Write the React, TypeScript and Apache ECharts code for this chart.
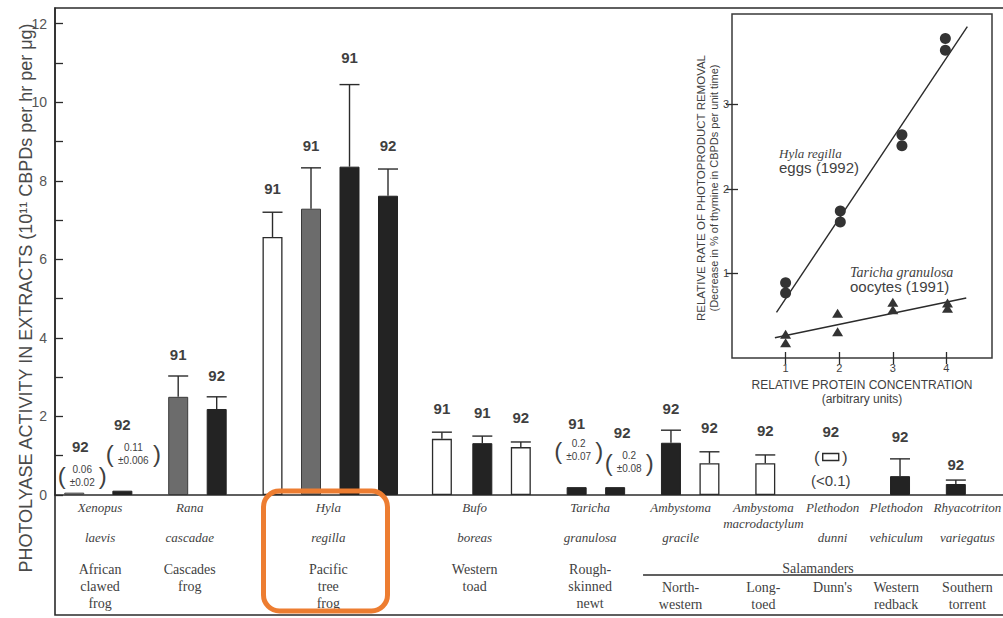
import React, { useEffect, useRef } from 'react';
import * as echarts from 'echarts';

// ---------- main bar chart data ----------
const barKeys = ['xen1', 'xen2', 'rana1', 'rana2', 'hyla1', 'hyla2', 'hyla3', 'hyla4', 'bufo1', 'bufo2', 'bufo3', 'tar1', 'tar2', 'amg1', 'amg2', 'amm1', 'pld', 'plv1', 'rhy1'];
const barSlot = [1.0, 3.5, 6.4, 8.4, 11.3, 13.3, 15.3, 17.3, 20.1, 22.2, 24.2, 27.1, 29.1, 32.0, 34.0, 36.9, 40.3, 43.9, 46.8];
const barValue = [0.06, 0.11, 2.5, 2.19, 6.57, 7.29, 8.36, 7.62, 1.43, 1.32, 1.22, 0.2, 0.2, 1.33, 0.81, 0.81, 0, 0.48, 0.28];
const barError: (number | null)[] = [null, null, 3.03, 2.5, 7.2, 8.33, 10.45, 8.3, 1.6, 1.5, 1.35, null, null, 1.65, 1.1, 1.02, null, 0.92, 0.38];
const barYear = ['92', '92', '91', '92', '91', '91', '91', '92', '91', '91', '92', '91', '92', '92', '92', '92', '92', '92', '92'];
const barFill = ['light', 'black', 'gray', 'black', 'white', 'gray', 'black', 'black', 'white', 'black', 'white', 'black', 'black', 'black', 'white', 'white', 'none', 'black', 'black'];
const barNote: (string[] | null)[] = [['0.06', '±0.02'], ['0.11', '±0.006'], null, null, null, null, null, null, null, null, null, ['0.2', '±0.07'], ['0.2', '±0.08'], null, null, null, null, null, null];

// ---------- category labels ----------
const groupSlot = [2.34, 7.0, 14.2, 21.8, 27.8, 32.5, 36.8, 40.4, 43.7, 47.4];
const groupGenus = ['Xenopus', 'Rana', 'Hyla', 'Bufo', 'Taricha', 'Ambystoma', 'Ambystoma', 'Plethodon', 'Plethodon', 'Rhyacotriton'];
const groupSpecies = ['laevis', 'cascadae', 'regilla', 'boreas', 'granulosa', 'gracile', 'macrodactylum', 'dunni', 'vehiculum', 'variegatus'];
const groupCommon = ['African\nclawed\nfrog', 'Cascades\nfrog', 'Pacific\ntree\nfrog', 'Western\ntoad', 'Rough-\nskinned\nnewt', 'North-\nwestern', 'Long-\ntoed', "Dunn's", 'Western\nredback', 'Southern\ntorrent'];
const groupIsSalamander = [false, false, false, false, false, true, true, true, true, true];
const salamanderSpan = [30.55, 49.6, 39.64];

// ---------- axes ----------
const yMax = 12.4;
const yTicks = [0, 1, 2, 3, 4, 5, 6, 7, 8, 9, 10, 11, 12];
const yTickLabels = [0, 2, 4, 6, 8, 10, 12];
const insetXTicks = [1, 2, 3, 4];
const insetYTicks = [1, 2, 3];

// ---------- inset data ----------
const eggsPoints = [[1, 0.89], [1, 0.77], [2.02, 1.74], [2.02, 1.61], [3.17, 2.64], [3.17, 2.51], [3.98, 3.78], [3.98, 3.64]];
const oocytePoints = [[1, 0.28], [1, 0.18], [1.97, 0.53], [1.97, 0.31], [3.0, 0.66], [3.0, 0.57], [4.02, 0.65], [4.02, 0.59]];
const eggsFit = [[0.83, 0.54], [4.39, 3.92]];
const oocyteFit = [[0.8, 0.24], [4.37, 0.71]];

// ---------- layout / style (pixel offsets) ----------
const INK = '#2b2b2b';
const TEXT = '#3f3f3f';
const SANS = '"Liberation Sans", Arial, Helvetica, sans-serif';
const SERIF = '"Liberation Serif", "Times New Roman", serif';
const LABEL_LIFT: Record<string, number> = { xen1: 46, xen2: 66, tar1: 64, tar2: 55, rhy1: 16, hyla3: 27, rana1: 21, rana2: 21, hyla2: 22, amg1: 22, plv1: 22, pld: 64 };
const LABEL_SHIFT: Record<string, number> = { xen1: 6, tar2: 7 };
const NOTE_LIFT: Record<string, number> = { xen1: 17, xen2: 37, tar1: 37, tar2: 25 };
const NOTE_SHIFT: Record<string, number> = { xen1: 8, xen2: 11, tar1: 2, tar2: 14 };
const FILL: Record<string, any> = {
  white: { color: '#ffffff', borderColor: INK, borderWidth: 1.3 },
  gray: { color: '#6c6c6c', borderColor: '#3a3a3a', borderWidth: 1 },
  light: { color: '#a5a5a5', borderColor: '#444', borderWidth: 1 },
  black: { color: '#232323', borderColor: '#232323', borderWidth: 1 },
};

function txt(text: string, x: number, y: number, font: string, align = 'center', vAlign = 'middle', extra: any = {}) {
  return {
    type: 'text',
    x,
    y,
    style: { text, font, fill: TEXT, align, textAlign: align, verticalAlign: vAlign, textVerticalAlign: vAlign, ...extra },
  };
}

export default function App() {
  const ref = useRef<HTMLDivElement>(null);
  useEffect(() => {
    const chart = echarts.init(ref.current!, null, { renderer: 'svg' });

    const barData = barKeys
      .map((k, i) => ({ k, i }))
      .filter((d) => barFill[d.i] !== 'none')
      .map(({ i }) => ({ value: [barSlot[i], barValue[i]], itemStyle: FILL[barFill[i]] }));

    const insetTick = { show: true, inside: true, length: 6, lineStyle: { color: INK, width: 1.3 } };

    const option: any = {
      animation: false,
      backgroundColor: '#ffffff',
      grid: [
        { left: 55, top: 8, right: 0, bottom: 123, show: false, containLabel: false, outerBoundsMode: 'none' },
        { left: 732, top: 14, width: 260, height: 344, show: true, borderColor: '#3a3a3a', borderWidth: 1.5, backgroundColor: 'transparent', containLabel: false, outerBoundsMode: 'none' },
      ],
      xAxis: [
        {
          gridIndex: 0, type: 'value', min: 0, max: 49.25,
          axisLine: { show: true, onZero: false, lineStyle: { color: INK, width: 1.6 } },
          axisTick: { show: false }, axisLabel: { show: false }, splitLine: { show: false },
        },
        {
          gridIndex: 1, type: 'value', min: 0, max: 4.85, position: 'bottom',
          axisLine: { show: false },
          axisTick: { ...insetTick, customValues: insetXTicks },
          axisLabel: { show: true, margin: 4, color: TEXT, fontSize: 11, fontFamily: SANS, customValues: insetXTicks },
          splitLine: { show: false },
          name: 'RELATIVE PROTEIN CONCENTRATION\n(arbitrary units)', nameLocation: 'middle', nameGap: 16,
          nameTextStyle: { color: TEXT, fontSize: 12, fontFamily: SANS, lineHeight: 14 },
        },
        {
          gridIndex: 1, type: 'value', min: 0, max: 4.85, position: 'top',
          axisLine: { show: false },
          axisTick: { ...insetTick, customValues: insetXTicks },
          axisLabel: { show: false }, splitLine: { show: false },
        },
      ],
      yAxis: [
        {
          gridIndex: 0, type: 'value', min: 0, max: yMax,
          axisLine: { show: true, lineStyle: { color: INK, width: 1.5 } },
          axisTick: { show: true, inside: true, length: 8, lineStyle: { color: INK, width: 1.3 }, customValues: yTicks },
          axisLabel: { show: true, margin: 8, color: '#555', fontSize: 14, fontFamily: SANS, customValues: yTickLabels },
          splitLine: { show: false },
        },
        {
          gridIndex: 1, type: 'value', min: 0, max: 4.07, position: 'left',
          axisLine: { show: false },
          axisTick: { ...insetTick, customValues: insetYTicks },
          axisLabel: { show: true, margin: 3, color: TEXT, fontSize: 11, fontFamily: SANS, customValues: insetYTicks },
          splitLine: { show: false },
        },
        {
          gridIndex: 1, type: 'value', min: 0, max: 4.07, position: 'right',
          axisLine: { show: false },
          axisTick: { ...insetTick, customValues: insetYTicks },
          axisLabel: { show: false }, splitLine: { show: false },
        },
      ],
      series: [
        {
          type: 'bar', xAxisIndex: 0, yAxisIndex: 0, barWidth: 20, data: barData, z: 3,
        },
        {
          type: 'custom', xAxisIndex: 0, yAxisIndex: 0, clip: false, z: 4,
          data: barKeys.map((_, i) => [barSlot[i], barValue[i], barError[i] ?? barValue[i], i]),
          renderItem: (_p: any, api: any) => {
            const i = api.value(3) as number;
            const key = barKeys[i];
            const x = api.value(0);
            const v = api.value(1);
            const err = barError[i];
            const base = api.coord([x, v]);
            const children: any[] = [];
            let top = base[1];
            if (err != null) {
              const pe = api.coord([x, err]);
              children.push({ type: 'line', shape: { x1: base[0], y1: base[1], x2: pe[0], y2: pe[1] }, style: { stroke: INK, lineWidth: 1.4 } });
              children.push({ type: 'line', shape: { x1: pe[0] - 10, y1: pe[1], x2: pe[0] + 10, y2: pe[1] }, style: { stroke: INK, lineWidth: 1.4 } });
              top = pe[1];
            }
            const lift = LABEL_LIFT[key] ?? 24;
            const shift = LABEL_SHIFT[key] ?? 0;
            children.push(txt(barYear[i], base[0] + shift, top - lift, `bold 15px ${SANS}`));
            const note = barNote[i];
            if (note) {
              const cx = base[0] + (NOTE_SHIFT[key] ?? 0);
              const cy = base[1] - (NOTE_LIFT[key] ?? 20);
              const maxLen = Math.max(...note.map((s) => s.length));
              const hw = 5 + 3.1 * maxLen;
              children.push(txt(note.join('\n'), cx, cy, `10px ${SANS}`, 'center', 'middle', { lineHeight: 13 }));
              children.push(txt('(', cx - hw, cy, `24px ${SANS}`));
              children.push(txt(')', cx + hw, cy, `24px ${SANS}`));
            }
            if (key === 'pld') {
              const cy = base[1] - 38;
              children.push(txt('(', base[0] - 14, cy, `17px ${SANS}`));
              children.push(txt(')', base[0] + 14, cy, `17px ${SANS}`));
              children.push({ type: 'rect', shape: { x: base[0] - 8, y: cy - 3.5, width: 16, height: 7 }, style: { fill: '#fff', stroke: INK, lineWidth: 1.4 } });
              children.push(txt('(<0.1)', base[0], base[1] - 15, `15px ${SANS}`));
            }
            return { type: 'group', children };
          },
        },
        {
          type: 'custom', xAxisIndex: 0, yAxisIndex: 0, clip: false, z: 4,
          data: groupSlot.map((s, i) => [s, 0, i]),
          renderItem: (_p: any, api: any) => {
            const i = api.value(2) as number;
            const p = api.coord([api.value(0), 0]);
            const speciesOffset = groupSpecies[i] === 'macrodactylum' ? 28 : 42;
            const commonTop = groupIsSalamander[i] ? 83.5 : 65.5;
            return {
              type: 'group',
              children: [
                txt(groupGenus[i], p[0], p[1] + 12, `italic 13px ${SERIF}`),
                txt(groupSpecies[i], p[0], p[1] + speciesOffset, `italic 13px ${SERIF}`),
                txt(groupCommon[i], p[0], p[1] + commonTop, `14px ${SERIF}`, 'center', 'top', { lineHeight: 17 }),
              ],
            };
          },
        },
        {
          type: 'custom', xAxisIndex: 0, yAxisIndex: 0, clip: false, z: 4,
          data: [[salamanderSpan[0], salamanderSpan[1], salamanderSpan[2]]],
          renderItem: (_p: any, api: any) => {
            const a = api.coord([api.value(0), 0]);
            const b = api.coord([api.value(1), 0]);
            const c = api.coord([api.value(2), 0]);
            return {
              type: 'group',
              children: [
                { type: 'line', shape: { x1: a[0], y1: a[1] + 80, x2: b[0], y2: b[1] + 80 }, style: { stroke: INK, lineWidth: 1.3 } },
                txt('Salamanders', c[0], c[1] + 73, `14px ${SERIF}`),
              ],
            };
          },
        },
        {
          type: 'line', xAxisIndex: 1, yAxisIndex: 1, data: eggsFit, symbol: 'none',
          lineStyle: { color: INK, width: 1.4 }, z: 3,
        },
        {
          type: 'line', xAxisIndex: 1, yAxisIndex: 1, data: oocyteFit, symbol: 'none',
          lineStyle: { color: INK, width: 1.4 }, z: 3,
        },
        {
          type: 'scatter', xAxisIndex: 1, yAxisIndex: 1, data: eggsPoints, symbol: 'circle', symbolSize: 11,
          itemStyle: { color: '#333', opacity: 1 }, z: 4,
        },
        {
          type: 'scatter', xAxisIndex: 1, yAxisIndex: 1, data: oocytePoints, symbol: 'triangle', symbolSize: [11, 9],
          itemStyle: { color: '#333', opacity: 1 }, z: 4,
        },
      ],
      graphic: [
        { type: 'rect', z: 1, shape: { x: 55, y: 8, width: 970, height: 607 }, style: { fill: 'none', stroke: INK, lineWidth: 1.6 } },
        {
          type: 'text', x: 26, y: 298, rotation: Math.PI / 2, z: 5,
          style: { text: 'PHOTOLYASE ACTIVITY IN EXTRACTS (10¹¹ CBPDs per hr per μg)', font: `18px ${SANS}`, fill: '#4a4a4a', align: 'center', textAlign: 'center', verticalAlign: 'middle', textVerticalAlign: 'middle' },
        },
        {
          type: 'text', x: 701, y: 188, rotation: Math.PI / 2, z: 5,
          style: { text: 'RELATIVE RATE OF PHOTOPRODUCT REMOVAL', font: `11.5px ${SANS}`, fill: TEXT, align: 'center', textAlign: 'center', verticalAlign: 'middle', textVerticalAlign: 'middle' },
        },
        {
          type: 'text', x: 714, y: 188, rotation: Math.PI / 2, z: 5,
          style: { text: '(Decrease in % of thymine in CBPDs per unit time)', font: `11px ${SANS}`, fill: TEXT, align: 'center', textAlign: 'center', verticalAlign: 'middle', textVerticalAlign: 'middle' },
        },
        { ...txt('Hyla regilla', 779, 153, `italic 13px ${SERIF}`, 'left'), z: 5 },
        { ...txt('eggs (1992)', 779, 167, `15px ${SANS}`, 'left'), z: 5 },
        { ...txt('Taricha granulosa', 850, 272, `italic 14px ${SERIF}`, 'left'), z: 5 },
        { ...txt('oocytes (1991)', 850, 286, `15px ${SANS}`, 'left'), z: 5 },
        { type: 'rect', z: 100, shape: { x: 263.5, y: 491, width: 124, height: 120, r: 16 }, style: { fill: 'none', stroke: '#ED7D31', lineWidth: 5 } },
      ],
    };

    chart.setOption(option);
    return () => chart.dispose();
  }, []);
  return <div ref={ref} style={{ position: 'fixed', left: 0, top: 0, width: 1003, height: 618, background: '#fff' }} />;
}
